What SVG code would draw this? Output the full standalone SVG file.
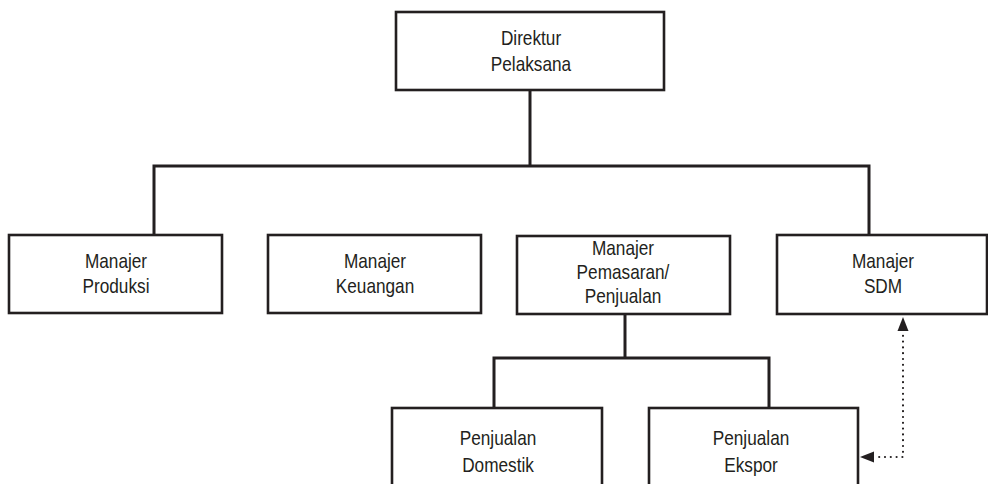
<svg xmlns="http://www.w3.org/2000/svg" width="988" height="484" viewBox="0 0 988 484">
  <style>
    .box { fill: #ffffff; stroke: #231f20; stroke-width: 2.6; }
    .line { fill: none; stroke: #231f20; stroke-width: 3; }
    .dot { fill: none; stroke: #231f20; stroke-width: 2.2; stroke-linecap: round; stroke-dasharray: 0 5.8; }
    .lbl { font-family: "Liberation Sans", "DejaVu Sans", sans-serif; font-size: 21px; fill: #231f20; text-anchor: middle; }
    .head { fill: #231f20; }
  </style>
  <rect width="988" height="484" fill="#ffffff"/>

  <!-- connectors -->
  <g id="connectors">
    <line class="line" x1="530" y1="90" x2="530" y2="166"/>
    <polyline class="line" points="154,235 154,166 869,166 869,235"/>
    <line class="line" x1="625" y1="314" x2="625" y2="358"/>
    <polyline class="line" points="494,408 494,358 769,358 769,408"/>
    <!-- dotted link from the HR manager to export sales -->
    <polyline class="dot" points="903,330 903,457 876,457"/>
    <polygon class="head" points="903,317 897.5,331 908.5,331"/>
    <polygon class="head" points="860,457 874,451.5 874,462.5"/>
  </g>

  <g id="direktur">
    <rect class="box" x="396" y="12" width="268" height="78"/>
    <g transform="translate(531,0) scale(0.82,1)">
      <text class="lbl" x="0" y="45">Direktur</text>
      <text class="lbl" x="0" y="71">Pelaksana</text>
    </g>
  </g>

  <g id="produksi">
    <rect class="box" x="9" y="235" width="213" height="78"/>
    <g transform="translate(116,0) scale(0.82,1)">
      <text class="lbl" x="0" y="268">Manajer</text>
      <text class="lbl" x="0" y="293">Produksi</text>
    </g>
  </g>

  <g id="keuangan">
    <rect class="box" x="268" y="235" width="213" height="78"/>
    <g transform="translate(375,0) scale(0.82,1)">
      <text class="lbl" x="0" y="268">Manajer</text>
      <text class="lbl" x="0" y="293">Keuangan</text>
    </g>
  </g>

  <g id="pemasaran">
    <rect class="box" x="517" y="236" width="213" height="78"/>
    <g transform="translate(623,0) scale(0.82,1)">
      <text class="lbl" x="0" y="255">Manajer</text>
      <text class="lbl" x="0" y="279">Pemasaran/</text>
      <text class="lbl" x="0" y="303">Penjualan</text>
    </g>
  </g>

  <g id="sdm">
    <rect class="box" x="777" y="235" width="210" height="79"/>
    <g transform="translate(883,0) scale(0.82,1)">
      <text class="lbl" x="0" y="268">Manajer</text>
      <text class="lbl" x="0" y="293">SDM</text>
    </g>
  </g>

  <g id="domestik">
    <rect class="box" x="392" y="408" width="210" height="100"/>
    <g transform="translate(498,0) scale(0.82,1)">
      <text class="lbl" x="0" y="445">Penjualan</text>
      <text class="lbl" x="0" y="472">Domestik</text>
    </g>
  </g>

  <g id="ekspor">
    <rect class="box" x="649" y="408" width="209" height="100"/>
    <g transform="translate(751,0) scale(0.82,1)">
      <text class="lbl" x="0" y="445">Penjualan</text>
      <text class="lbl" x="0" y="472">Ekspor</text>
    </g>
  </g>
</svg>
